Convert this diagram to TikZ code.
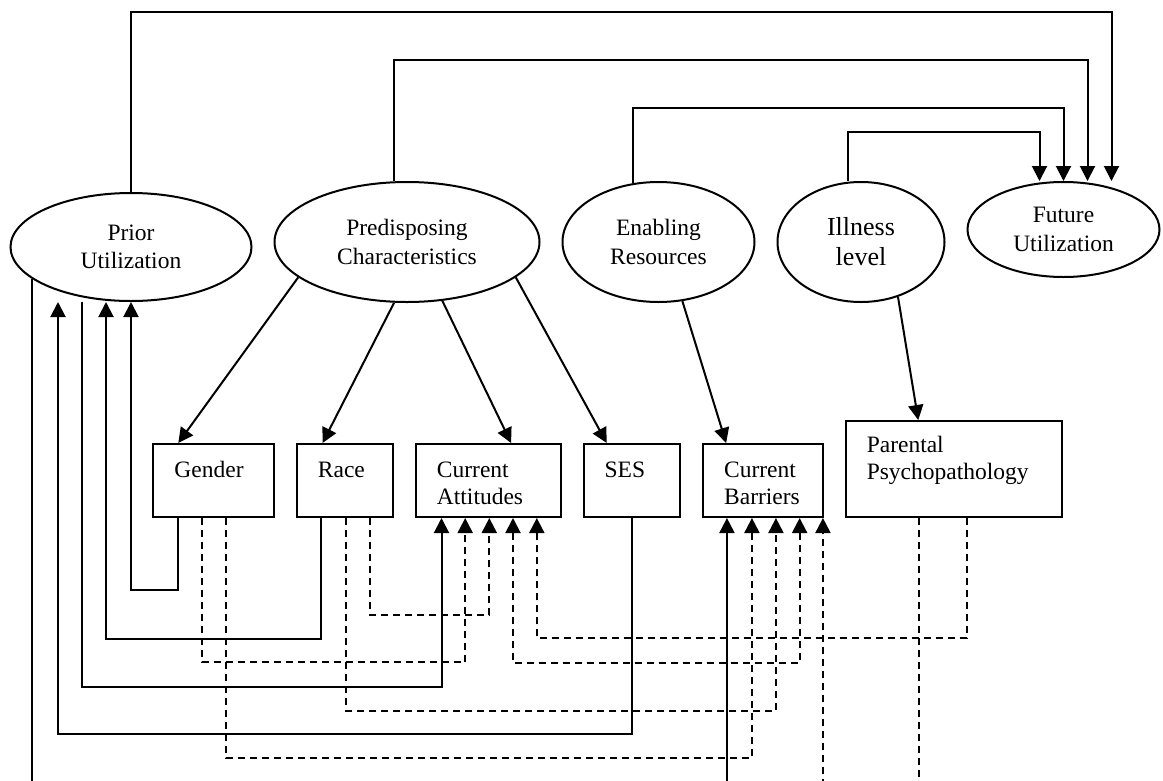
\documentclass[tikz,border=0pt]{standalone}
\usepackage{fontspec}
\setmainfont{Liberation Serif}
\usepackage{tikz}
\usetikzlibrary{positioning,arrows.meta,shapes.geometric}
\tikzset{
  hsoval/.style={
    ellipse,
    draw=black,
    line width=2pt,
    align=center,
    inner sep=0pt,
    font=\fontsize{23.5}{28.5}\selectfont
  },
  hsbox/.style={
    rectangle,
    draw=black,
    line width=2pt,
    align=left,
    inner xsep=21pt,
    inner ysep=0pt,
    text height=33pt,
    text depth=40pt,
    font=\fontsize{23.5}{27.5}\selectfont
  },
  hsarrow/.style={-{Triangle[length=15pt,width=15pt]},line width=2pt,draw=black},
  hsdashed/.style={hsarrow,dash pattern=on 7pt off 5pt},
  hsboth/.style={hsdashed,{Triangle[length=15pt,width=15pt]}-{Triangle[length=15pt,width=15pt]}},
}

\begin{document}
\begin{tikzpicture}[x=1pt,y=-1pt,node distance=21pt]
  \useasboundingbox (0,0) rectangle (1163,780);
  \clip (0,0) rectangle (1163,780);

  \node[hsoval,minimum width=241pt,minimum height=108pt] (prior) at (131,247)
    {Prior\\Utilization};
  \node[hsoval,minimum width=265pt,minimum height=120pt,right=of prior,yshift=5pt] (predis)
    {Predisposing\\Characteristics};
  \node[hsoval,minimum width=192pt,minimum height=120pt,right=of predis] (enable)
    {Enabling\\Resources};
  \node[hsoval,minimum width=167pt,minimum height=120pt,right=of enable,
    font=\fontsize{26}{30}\selectfont] (illness)
    {Illness\\level};
  \node[hsoval,minimum width=192pt,minimum height=95pt,right=of illness,yshift=12.5pt] (future)
    {Future\\Utilization};

  \node[hsbox,text width=78.5pt] (gender) at (213.7,480.5) {Gender};
  \node[hsbox,text width=54pt,right=of gender] (race) {Race};
  \node[hsbox,text width=102.7pt,right=of race] (attit) {Current\\Attitudes};
  \node[hsbox,text width=54.5pt,right=of attit] (ses) {SES};
  \node[hsbox,text width=77.6pt,right=of ses] (barr) {Current\\Barriers};
  \node[hsbox,text width=174pt,text height=31pt,text depth=65pt,
    right=of barr.south east,anchor=south west] (parent) {Parental\\Psychopathology};

  \draw[hsarrow] (prior.north) -- ++(0,-180) -| ([xshift=48pt]future.north);
  \draw[hsarrow] ([xshift=-13pt]predis.north) -- ++(0,-121) -| ([xshift=24pt]future.north);
  \draw[hsarrow] (enable.113) -- ++(0,-75) -| (future.north);
  \draw[hsarrow] ([xshift=-13pt]illness.north) -- ++(0,-49) -| ([xshift=-24pt]future.north);

  \draw[hsarrow] (predis.198) -- ([xshift=-35.4pt]gender.north);
  \draw[hsarrow] (predis.258) -- ([xshift=-22.4pt]race.north);
  \draw[hsarrow] (predis.301) -- ([xshift=22.8pt]attit.north);
  \draw[hsarrow] (predis.342) -- ([xshift=-25.2pt]ses.north);
  \draw[hsarrow] (enable.292) -- ([xshift=-36.8pt]barr.north);
  \draw[hsarrow] (illness.304) -- ([xshift=-35.5pt]parent.north);

  \draw[hsarrow] ([xshift=-35.4pt]gender.south) -- ++(0,72) -| (prior.south);
  \draw[hsarrow] ([xshift=-23.6pt]race.south) -- ++(0,121) -| ([xshift=-25pt]prior.south);
  \draw[hsarrow] (ses.south) -- ++(0,216) -| ([xshift=-73pt]prior.south);
  \draw[hsarrow] ([xshift=-49.5pt]prior.south) -- ++(0,385) -| ([xshift=-46.8pt]attit.south);
  \draw[hsarrow] (prior.198.5) -- ++(0,560) -| ([xshift=-36pt]barr.south);

  \draw[hsdashed] ([xshift=-12pt]gender.south) -- ++(0,144) -| ([xshift=-23.1pt]attit.south);
  \draw[hsdashed] ([xshift=12pt]gender.south) -- ++(0,240) -| ([xshift=-11pt]barr.south);
  \draw[hsdashed] ([xshift=25pt]race.south) -- ++(0,97) -| ([xshift=1pt]attit.south);
  \draw[hsdashed] ([xshift=1.3pt]race.south) -- ++(0,193) -| ([xshift=13pt]barr.south);
  \draw[hsboth] ([xshift=24.7pt]attit.south) -- ++(0,145) -| ([xshift=36.7pt]barr.south);
  \draw[hsdashed] ([xshift=13.4pt]parent.south) -- ++(0,120) -| ([xshift=48.5pt]attit.south);
  \draw[hsdashed] ([xshift=-35pt]parent.south) -- ++(0,320) -| ([xshift=60pt]barr.south);
\end{tikzpicture}
\end{document}
